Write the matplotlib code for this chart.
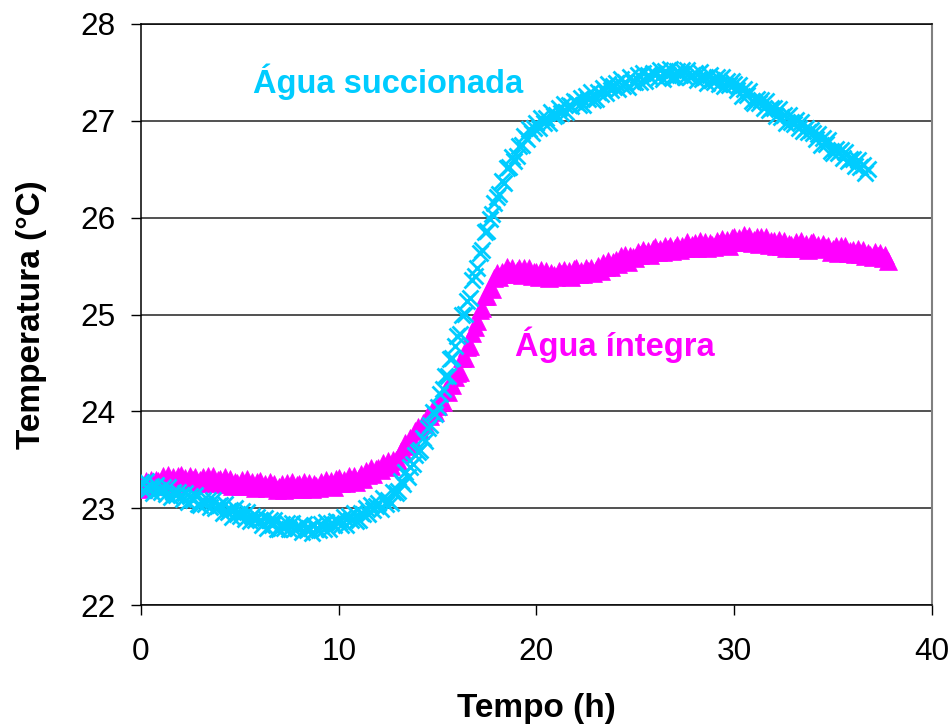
import numpy as np
import matplotlib
matplotlib.use('Agg')
from matplotlib import pyplot as plt

plt.rcParams['font.family'] = ['Liberation Sans', 'DejaVu Sans']

# leituras a cada 7,5 min (0.125 h); cada linha = 1 h
passo_h = 0.125

# temperatura da água succionada (°C)
temp_succionada = [
    23.27, 23.19, 23.28, 23.20, 23.23, 23.16, 23.24, 23.19,
    23.17, 23.22, 23.15, 23.22, 23.12, 23.17, 23.14, 23.17,
    23.14, 23.09, 23.16, 23.06, 23.13, 23.08, 23.14, 23.04,
    23.03, 23.08, 23.04, 23.08, 23.01, 23.08, 23.00, 23.02,
    23.03, 22.95, 23.04, 22.96, 22.98, 22.91, 23.00, 22.94,
    22.92, 22.97, 22.89, 22.96, 22.87, 22.92, 22.88, 22.91,
    22.88, 22.83, 22.90, 22.80, 22.88, 22.83, 22.88, 22.79,
    22.78, 22.84, 22.80, 22.85, 22.78, 22.85, 22.78, 22.80,
    22.82, 22.75, 22.84, 22.77, 22.80, 22.74, 22.83, 22.78,
    22.77, 22.84, 22.78, 22.86, 22.78, 22.85, 22.83, 22.87,
    22.86, 22.83, 22.91, 22.83, 22.92, 22.88, 22.95, 22.87,
    22.88, 22.95, 22.94, 23.00, 22.94, 23.03, 22.98, 23.02,
    23.05, 22.99, 23.10, 23.04, 23.08, 23.05, 23.17, 23.16,
    23.18, 23.28, 23.25, 23.37, 23.32, 23.43, 23.46, 23.55,
    23.58, 23.60, 23.72, 23.69, 23.83, 23.86, 23.99, 23.97,
    24.04, 24.18, 24.23, 24.36, 24.37, 24.54, 24.55, 24.67,
    24.78, 24.80, 24.99, 25.01, 25.14, 25.17, 25.36, 25.40,
    25.48, 25.64, 25.67, 25.85, 25.86, 25.99, 26.04, 26.15,
    26.21, 26.24, 26.38, 26.36, 26.51, 26.52, 26.63, 26.59,
    26.64, 26.74, 26.75, 26.84, 26.81, 26.92, 26.87, 26.93,
    26.98, 26.93, 27.03, 26.98, 27.03, 26.98, 27.09, 27.05,
    27.06, 27.13, 27.08, 27.17, 27.09, 27.16, 27.15, 27.20,
    27.19, 27.16, 27.24, 27.16, 27.26, 27.23, 27.30, 27.22,
    27.23, 27.30, 27.28, 27.34, 27.29, 27.38, 27.32, 27.36,
    27.39, 27.33, 27.43, 27.36, 27.40, 27.35, 27.45, 27.40,
    27.40, 27.47, 27.40, 27.49, 27.41, 27.47, 27.45, 27.49,
    27.48, 27.44, 27.52, 27.43, 27.51, 27.47, 27.54, 27.45,
    27.45, 27.51, 27.47, 27.52, 27.45, 27.52, 27.45, 27.47,
    27.49, 27.42, 27.50, 27.43, 27.45, 27.39, 27.47, 27.42,
    27.40, 27.45, 27.38, 27.45, 27.36, 27.41, 27.37, 27.41,
    27.38, 27.32, 27.37, 27.26, 27.33, 27.27, 27.31, 27.20,
    27.18, 27.23, 27.18, 27.22, 27.13, 27.20, 27.11, 27.13,
    27.13, 27.05, 27.12, 27.04, 27.06, 26.98, 27.06, 26.99,
    26.97, 27.01, 26.93, 26.99, 26.89, 26.93, 26.88, 26.91,
    26.87, 26.81, 26.86, 26.75, 26.82, 26.76, 26.80, 26.69,
    26.67, 26.71, 26.67, 26.70, 26.62, 26.68, 26.59, 26.61,
    26.61, 26.53, 26.60, 26.52, 26.54, 26.46, 26.50,
]

# temperatura da água íntegra (°C)
temp_integra = [
    23.24, 23.20, 23.28, 23.23, 23.29, 23.23, 23.29, 23.28,
    23.27, 23.33, 23.29, 23.34, 23.28, 23.32, 23.26, 23.33,
    23.34, 23.28, 23.31, 23.27, 23.33, 23.29, 23.32, 23.26,
    23.29, 23.32, 23.26, 23.33, 23.27, 23.33, 23.26, 23.29,
    23.30, 23.25, 23.32, 23.25, 23.30, 23.23, 23.27, 23.26,
    23.23, 23.29, 23.25, 23.30, 23.23, 23.27, 23.21, 23.27,
    23.28, 23.22, 23.25, 23.21, 23.27, 23.23, 23.25, 23.19,
    23.22, 23.25, 23.19, 23.26, 23.21, 23.27, 23.20, 23.24,
    23.25, 23.20, 23.27, 23.21, 23.26, 23.20, 23.25, 23.23,
    23.21, 23.27, 23.24, 23.29, 23.24, 23.28, 23.22, 23.30,
    23.31, 23.26, 23.29, 23.26, 23.33, 23.29, 23.33, 23.27,
    23.31, 23.35, 23.30, 23.38, 23.34, 23.41, 23.35, 23.40,
    23.42, 23.39, 23.47, 23.43, 23.49, 23.44, 23.50, 23.50,
    23.49, 23.59, 23.58, 23.67, 23.64, 23.72, 23.69, 23.80,
    23.84, 23.81, 23.88, 23.87, 23.96, 23.95, 24.02, 23.99,
    24.05, 24.12, 24.10, 24.21, 24.20, 24.30, 24.27, 24.35,
    24.40, 24.41, 24.55, 24.55, 24.66, 24.67, 24.81, 24.87,
    24.93, 25.05, 25.07, 25.19, 25.19, 25.28, 25.26, 25.38,
    25.43, 25.39, 25.44, 25.42, 25.49, 25.45, 25.48, 25.42,
    25.45, 25.48, 25.41, 25.48, 25.42, 25.48, 25.40, 25.44,
    25.44, 25.39, 25.46, 25.40, 25.45, 25.38, 25.43, 25.41,
    25.39, 25.45, 25.42, 25.46, 25.41, 25.45, 25.39, 25.47,
    25.48, 25.42, 25.45, 25.42, 25.48, 25.45, 25.48, 25.43,
    25.46, 25.50, 25.45, 25.53, 25.49, 25.55, 25.49, 25.54,
    25.56, 25.52, 25.60, 25.55, 25.61, 25.54, 25.60, 25.59,
    25.58, 25.65, 25.61, 25.67, 25.62, 25.66, 25.61, 25.68,
    25.70, 25.65, 25.68, 25.65, 25.71, 25.68, 25.71, 25.66,
    25.69, 25.72, 25.67, 25.71, 25.69, 25.75, 25.69, 25.72,
    25.74, 25.69, 25.76, 25.70, 25.75, 25.69, 25.74, 25.72,
    25.70, 25.76, 25.73, 25.78, 25.73, 25.77, 25.71, 25.79,
    25.80, 25.75, 25.79, 25.75, 25.82, 25.78, 25.81, 25.74,
    25.77, 25.80, 25.73, 25.80, 25.74, 25.80, 25.72, 25.76,
    25.76, 25.71, 25.77, 25.71, 25.76, 25.69, 25.73, 25.72,
    25.69, 25.75, 25.71, 25.76, 25.69, 25.73, 25.67, 25.74,
    25.75, 25.69, 25.72, 25.68, 25.73, 25.69, 25.71, 25.65,
    25.68, 25.71, 25.64, 25.71, 25.65, 25.71, 25.63, 25.66,
    25.67, 25.62, 25.68, 25.62, 25.67, 25.60, 25.63, 25.61,
    25.59, 25.65, 25.60, 25.64, 25.58, 25.61, 25.55,
]

x_ticks = [0, 10, 20, 30, 40]
y_ticks = [22, 23, 24, 25, 26, 27, 28]

cor_succ = '#00ccff'
cor_int = '#ff00ff'

tempo_succ = np.arange(len(temp_succionada)) * passo_h
tempo_int = np.arange(len(temp_integra)) * passo_h

fig = plt.figure(figsize=(9.52, 7.27), dpi=100)
ax = fig.add_axes([0.1481, 0.1678, 0.8309, 0.7992])

ax.plot(tempo_int, temp_integra, linestyle='none', marker='^', markersize=13,
        color=cor_int, markeredgewidth=0.5, zorder=3)
ax.plot(tempo_succ, temp_succionada, linestyle='none', marker='x', markersize=11,
        color=cor_succ, markeredgewidth=2, zorder=4)

ax.set_xlim(0, 40)
ax.set_ylim(22, 28)
ax.set_xticks(x_ticks)
ax.set_yticks(y_ticks)
ax.yaxis.grid(True, color='#222222', linewidth=1.1)
ax.set_axisbelow(True)

ax.tick_params(axis='both', direction='out', length=7, width=1, labelsize=22.7)
ax.tick_params(axis='x', pad=16)
ax.tick_params(axis='y', pad=11)

for lado in ['left', 'bottom', 'top']:
    ax.spines[lado].set_color('black')
    ax.spines[lado].set_linewidth(1.1)
ax.spines['right'].set_color('#808080')
ax.spines['right'].set_linewidth(1.5)

ax.set_xlabel('Tempo (h)', fontsize=24, fontweight='bold', labelpad=19)
ax.set_ylabel('Temperatura (°C)', fontsize=24, fontweight='bold', labelpad=24)

ax.text(5.66, 27.29, 'Água succionada', color=cor_succ, fontsize=23.5,
        fontweight='bold', ha='left', va='baseline')
ax.text(18.91, 24.575, 'Água íntegra', color=cor_int, fontsize=23.5,
        fontweight='bold', ha='left', va='baseline')

fig.savefig('out.png', dpi=100)
